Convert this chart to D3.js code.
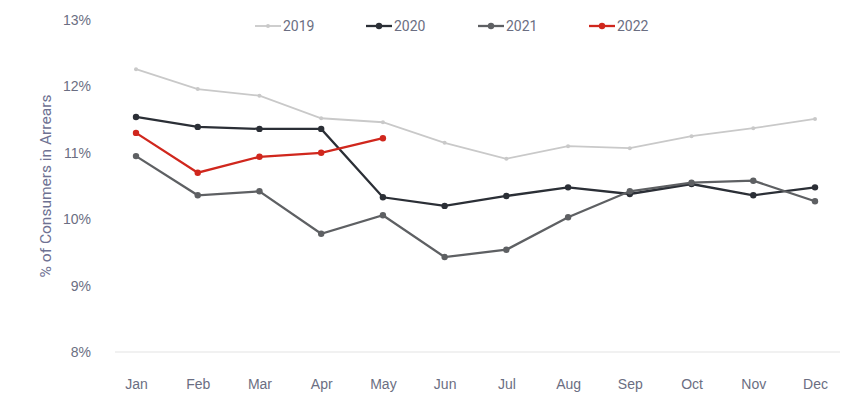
<!DOCTYPE html>
<html>
<head>
<meta charset="utf-8">
<script src="https://cdn.jsdelivr.net/npm/d3@7"></script>
<style>
  body { margin: 0; background: #fff; }
  svg { display: block; font-family: Roboto, "Noto Sans", sans-serif; }
</style>
</head>
<body>
<svg id="chart" width="861" height="405"></svg>
<script>
const months = ["Jan","Feb","Mar","Apr","May","Jun","Jul","Aug","Sep","Oct","Nov","Dec"];
const yTicks = [8, 9, 10, 11, 12, 13];
const seriesNames = ["2019", "2020", "2021", "2022"];
const values2019 = [12.26, 11.96, 11.86, 11.52, 11.46, 11.15, 10.91, 11.10, 11.07, 11.25, 11.37, 11.51];
const values2020 = [11.54, 11.39, 11.36, 11.36, 10.33, 10.20, 10.35, 10.48, 10.38, 10.53, 10.36, 10.48];
const values2021 = [10.95, 10.36, 10.42, 9.78, 10.06, 9.43, 9.54, 10.03, 10.42, 10.55, 10.58, 10.27];
const values2022 = [11.30, 10.70, 10.94, 11.00, 11.22];

const seriesColors = ["#c9c9c9", "#2b2f36", "#5e6063", "#d0271d"];
const seriesValues = [values2019, values2020, values2021, values2022];

const svg = d3.select("#chart");
const textColor = "#6b6e82";

const x = d3.scalePoint().domain(months).range([136, 815]);
const y = d3.scaleLinear().domain([8, 13]).range([352, 20]);

// baseline
svg.append("line")
  .attr("x1", 115).attr("x2", 840)
  .attr("y1", y(8)).attr("y2", y(8))
  .attr("stroke", "#ececec").attr("stroke-width", 1.5);

// y axis
const yAxis = d3.axisLeft(y).tickValues(yTicks).tickSize(0).tickPadding(0)
  .tickFormat(d => d + "%");
const gy = svg.append("g").attr("transform", "translate(91,0)").call(yAxis);
gy.select(".domain").remove();
gy.selectAll("text").attr("fill", textColor).attr("font-size", 14);

// x axis
const xAxis = d3.axisBottom(x).tickSize(0).tickPadding(0);
const gx = svg.append("g").attr("transform", "translate(0,384)").call(xAxis);
gx.select(".domain").remove();
gx.selectAll("text").attr("fill", textColor).attr("font-size", 14).attr("dy", "0.35em");

// y title
svg.append("text")
  .attr("transform", "translate(51,186) rotate(-90)")
  .attr("text-anchor", "middle")
  .attr("fill", "#6e7192")
  .attr("font-size", 15.5)
  .text("% of Consumers in Arrears");

// lines
const line = d3.line().x((d, i) => x(months[i])).y(d => y(d));
seriesValues.forEach((vals, k) => {
  const g = svg.append("g");
  const w = k === 0 ? 1.8 : 2.3;
  g.append("path").datum(vals)
    .attr("d", line).attr("fill", "none")
    .attr("stroke", seriesColors[k]).attr("stroke-width", w);
  g.selectAll("circle").data(vals).join("circle")
    .attr("cx", (d, i) => x(months[i])).attr("cy", d => y(d))
    .attr("r", k === 0 ? 2 : 3.2)
    .attr("fill", seriesColors[k]);
});

// legend
const legendX = [255, 366, 478, 589];
seriesNames.forEach((name, k) => {
  const g = svg.append("g").attr("transform", `translate(${legendX[k]},26)`);
  g.append("line").attr("x1", 0).attr("x2", 26).attr("y1", 0).attr("y2", 0)
    .attr("stroke", seriesColors[k]).attr("stroke-width", k === 0 ? 1.8 : 2.3);
  g.append("circle").attr("cx", 13).attr("cy", 0).attr("r", k === 0 ? 2 : 3.2)
    .attr("fill", seriesColors[k]);
  g.append("text").attr("x", 28).attr("y", 0).attr("dy", "0.35em")
    .attr("fill", textColor).attr("font-size", 14).text(name);
});
</script>
</body>
</html>
